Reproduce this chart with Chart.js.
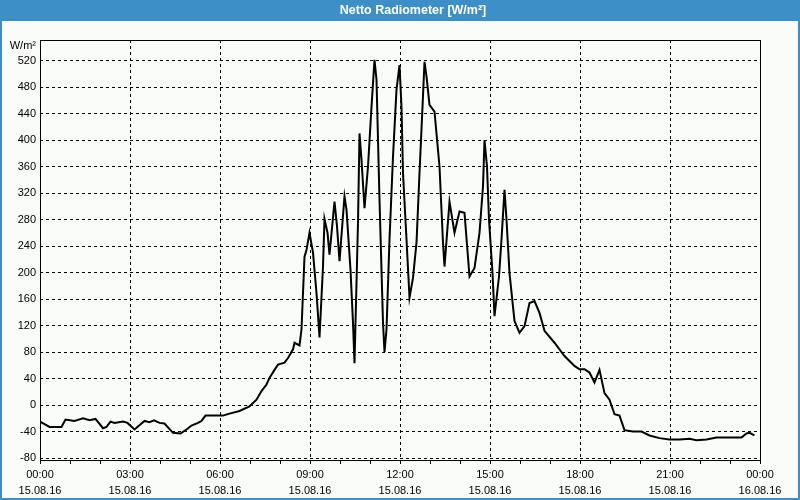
<!DOCTYPE html>
<html>
<head>
<meta charset="utf-8">
<script src="https://cdn.jsdelivr.net/npm/chart.js@4/dist/chart.umd.min.js"></script>
<style>
  html, body { margin: 0; padding: 0; background: #fafcfa; }
  #wrap { width: 800px; height: 500px; position: relative; }
</style>
</head>
<body>
<div id="wrap"><canvas id="c" width="800" height="500"></canvas></div>
<script>
const chartTitle = "Netto Radiometer [W/m²]";
const unitLabel = "W/m²";
const times = [
  "00:00","00:19","00:43","00:51","01:09","01:26","01:39","01:51","02:06","02:13",
  "02:21","02:29","02:46","02:55","03:09","03:29","03:39","03:48","03:59","04:09",
  "04:26","04:41","04:53","05:03","05:16","05:23","05:31","06:06","06:19","06:39",
  "06:59","07:13","07:23","07:33","07:39","07:49","07:56","08:09","08:16","08:26",
  "08:29","08:39","08:43","08:49","08:53","08:59","09:06","09:13","09:19","09:26",
  "09:29","09:35","09:39","09:49","09:54","09:59","10:09","10:13","10:21","10:26",
  "10:29","10:36","10:39","10:43","10:49","10:56","11:03","11:09","11:13","11:19",
  "11:26","11:29","11:33","11:39","11:46","11:53","11:59","12:03","12:06","12:13",
  "12:19","12:26","12:33","12:39","12:45","12:49","12:53","12:59","13:09","13:19",
  "13:26","13:29","13:39","13:49","13:59","14:09","14:19","14:29","14:39","14:46",
  "14:49","14:54","14:58","15:05","15:09","15:18","15:23","15:29","15:33","15:39",
  "15:49","15:59","16:09","16:19","16:29","16:39","16:49","17:09","17:29","17:49",
  "17:59","18:09","18:19","18:29","18:39","18:49","18:59","19:09","19:19","19:29",
  "19:46","20:03","20:19","20:39","20:59","21:19","21:39","21:53","22:13","22:33",
  "23:23","23:33","23:39","23:49"
];
const values = [
  -25,-33,-33,-22,-24,-20,-23,-21,-35,-33,
  -25,-27,-25,-27,-37,-24,-26,-23,-27,-28,
  -42,-43,-37,-31,-27,-24,-16,-16,-13,-9,
  -2,8,21,31,41,53,61,64,71,84,
  94,90,114,224,234,260,230,169,102,209,
  281,260,227,307,270,217,315,295,204,124,
  63,275,410,370,297,360,450,521,491,310,
  124,80,114,250,375,476,513,450,350,250,
  162,192,245,350,450,518,496,453,443,360,
  245,209,307,260,292,290,194,207,260,330,
  400,360,280,199,134,194,250,325,280,199,
  127,109,119,154,157,139,112,94,74,59,
  54,54,49,34,53,18,8,-14,-16,-38,
  -40,-40,-46,-50,-52,-52,-51,-53,-52,-49,
  -49,-43,-42,-46
];
const yTicks = [-80,-40,0,40,80,120,160,200,240,280,320,360,400,440,480,520];
const xTickTimes = ["00:00","03:00","06:00","09:00","12:00","15:00","18:00","21:00","00:00"];
const xTickDates = ["15.08.16","15.08.16","15.08.16","15.08.16","15.08.16","15.08.16","15.08.16","15.08.16","16.08.16"];

function toMin(s){ const p = s.split(":"); return (+p[0])*60 + (+p[1]); }
const points = times.map((t,i)=>({x: toMin(t), y: values[i]}));

const FONT = "'Liberation Sans', Arial, sans-serif";
const BLUE = "#3d8fc7";

const framePlugin = {
  id: 'frame',
  beforeDraw(chart){
    const ctx = chart.ctx;
    ctx.save();
    ctx.fillStyle = "#fafcfa";
    ctx.fillRect(0,0,800,500);
    ctx.fillStyle = BLUE;
    ctx.fillRect(0,0,800,21);
    ctx.fillRect(0,0,2,500);
    ctx.fillRect(798,0,2,500);
    ctx.fillRect(0,498,800,2);
    ctx.fillStyle = "#ffffff";
    ctx.font = "bold 12.5px " + FONT;
    ctx.textAlign = "center";
    ctx.textBaseline = "middle";
    ctx.fillText(chartTitle, 413, 11);
    ctx.fillStyle = "#000";
    ctx.font = "11px " + FONT;
    ctx.textAlign = "right";
    ctx.fillText(unitLabel, 36, 46);
    ctx.restore();
  },
  beforeDatasetsDraw(chart){
    const a = chart.chartArea, ctx = chart.ctx;
    ctx.save();
    ctx.strokeStyle = "#000";
    ctx.lineWidth = 1;
    ctx.setLineDash([]);
    ctx.strokeRect(Math.round(a.left)+0.5, Math.round(a.top)+0.5, Math.round(a.right-a.left), Math.round(a.bottom-a.top));
    ctx.restore();
  }
};

new Chart(document.getElementById('c'), {
  type: 'line',
  data: {
    datasets: [{
      data: points,
      borderColor: '#000',
      borderWidth: 2,
      pointRadius: 0,
      tension: 0,
      fill: false
    }]
  },
  options: {
    responsive: false,
    animation: false,
    devicePixelRatio: 1,
    layout: { padding: { left: 0, right: 40, top: 40, bottom: 0 } },
    plugins: { legend: { display: false }, title: { display: false }, tooltip: { enabled: false } },
    scales: {
      x: {
        type: 'linear',
        min: 0, max: 1440,
        afterFit(s){ s.height = 40; },
        afterBuildTicks(s){ const t=[]; for(let m=0;m<=1440;m+=60) t.push({value:m}); s.ticks = t; },
        ticks: {
          autoSkip: false, maxRotation: 0, minRotation: 0,
          padding: 3,
          color: '#000',
          font: { family: FONT, size: 11, lineHeight: '16px' },
          callback(v){
            if (v % 180 !== 0) return '';
            const i = v/180;
            return [xTickTimes[i], xTickDates[i]];
          }
        },
        grid: {
          color: (ctx)=> (ctx.tick && ctx.tick.value % 180 === 0) ? '#000' : 'rgba(0,0,0,0)',
          lineWidth: 1,
          drawTicks: true,
          tickLength: 4,
          tickColor: '#000',
          tickWidth: 1,
          tickBorderDash: []
        },
        border: { display: false, dash: [3,3] }
      },
      y: {
        min: -83, max: 551,
        afterFit(s){ s.width = 40; },
        afterBuildTicks(s){ s.ticks = yTicks.map(v=>({value:v})); },
        ticks: {
          includeBounds: false,
          padding: 4,
          color: '#000',
          font: { family: FONT, size: 11 }
        },
        grid: { color: '#000', lineWidth: 1, drawTicks: false },
        border: { display: false, dash: [3,3] }
      }
    }
  },
  plugins: [framePlugin]
});
</script>
</body>
</html>
